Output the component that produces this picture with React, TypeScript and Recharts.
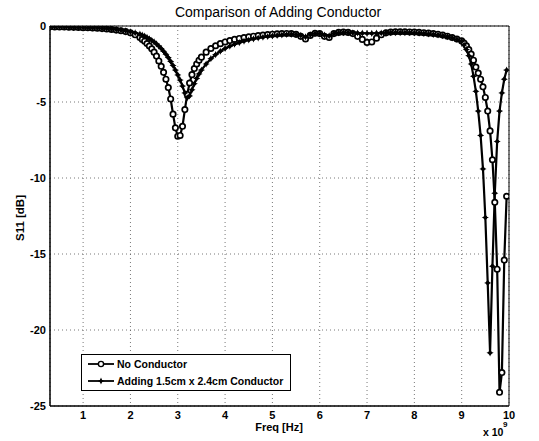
import React from 'react';
import { LineChart, Line, XAxis, YAxis, CartesianGrid, ReferenceArea } from 'recharts';

// Frequency in GHz (axis shows x 10^9 Hz)
const freqGHz = [
  0.3, 0.4, 0.5, 0.6, 0.7, 0.8, 0.9, 1.0, 1.1, 1.2, 1.3, 1.4, 1.5, 1.6, 1.7, 1.8, 1.9, 2.0, 2.1, 2.2,
  2.25, 2.3, 2.35, 2.4, 2.45, 2.5, 2.55, 2.6, 2.65, 2.7, 2.75, 2.8, 2.85, 2.9, 2.95, 3.0, 3.05, 3.1, 3.15, 3.2, 3.25, 3.3, 3.35, 3.4, 3.45, 3.5,
  3.6, 3.7, 3.8, 3.9, 4.0, 4.1, 4.2, 4.3, 4.4, 4.5, 4.6, 4.7, 4.8, 4.9, 5.0, 5.1, 5.2, 5.3, 5.4, 5.5, 5.6, 5.7, 5.8, 5.9, 6.0, 6.1, 6.2, 6.3, 6.4, 6.5, 6.6, 6.7, 6.8, 6.9, 7.0, 7.1, 7.2, 7.3, 7.4, 7.5, 7.6, 7.7, 7.8, 7.9, 8.0, 8.1, 8.2, 8.3, 8.4, 8.5, 8.6, 8.7, 8.8, 8.9,
  9.0, 9.05, 9.1, 9.15, 9.2, 9.25, 9.3, 9.35, 9.4, 9.45, 9.5, 9.55, 9.6, 9.65, 9.7, 9.75, 9.8, 9.85, 9.9, 9.95,
];

const noConductorDb = [
  -0.05, -0.06, -0.06, -0.07, -0.08, -0.09, -0.1, -0.11, -0.12, -0.13, -0.15, -0.17, -0.2, -0.23, -0.27, -0.31, -0.37, -0.45, -0.58, -0.75,
  -0.88, -1.0, -1.15, -1.32, -1.5, -1.72, -1.98, -2.3, -2.65, -3.05, -3.5, -4.05, -4.8, -5.8, -6.7, -7.25, -7.2, -6.6, -5.5, -4.5, -3.75, -3.2, -2.8, -2.5, -2.25, -2.05,
  -1.72, -1.48, -1.3, -1.16, -1.05, -0.96, -0.88, -0.82, -0.76, -0.71, -0.67, -0.63, -0.6, -0.57, -0.54, -0.52, -0.5, -0.49, -0.5, -0.55, -0.68, -0.85, -0.62, -0.48, -0.5, -0.68, -0.75, -0.5, -0.42, -0.4, -0.42, -0.5, -0.68, -0.88, -1.08, -1.05, -0.8, -0.58, -0.45, -0.4, -0.38, -0.38, -0.38, -0.39, -0.4, -0.42, -0.44, -0.47, -0.5, -0.54, -0.6, -0.67, -0.76, -0.86,
  -0.98, -1.12, -1.3, -1.55, -1.85, -2.25, -2.7, -3.1, -3.5, -4.0, -4.7, -5.6, -6.9, -8.8, -11.6, -16.0, -24.1, -22.8, -15.4, -11.2,
];

const withConductorDb = [
  -0.04, -0.05, -0.05, -0.06, -0.07, -0.08, -0.09, -0.1, -0.11, -0.12, -0.13, -0.15, -0.17, -0.2, -0.23, -0.27, -0.32, -0.38, -0.45, -0.54,
  -0.6, -0.67, -0.75, -0.84, -0.94, -1.05, -1.18, -1.32, -1.48, -1.66, -1.86, -2.08, -2.33, -2.6, -2.9, -3.22, -3.56, -3.95, -4.4, -4.72, -4.6, -4.2, -3.8, -3.45, -3.15, -2.9,
  -2.5, -2.15, -1.88, -1.66, -1.48, -1.33, -1.2, -1.1, -1.0, -0.92, -0.85, -0.79, -0.74, -0.69, -0.65, -0.62, -0.59, -0.56, -0.54, -0.56, -0.62, -0.72, -0.58, -0.5, -0.5, -0.6, -0.65, -0.5, -0.45, -0.44, -0.44, -0.45, -0.46, -0.47, -0.48, -0.48, -0.47, -0.46, -0.45, -0.44, -0.43, -0.43, -0.43, -0.44, -0.45, -0.47, -0.49, -0.52, -0.55, -0.59, -0.64, -0.7, -0.78, -0.88,
  -1.0, -1.25, -1.55, -1.95, -2.5, -3.3, -4.3, -5.6, -7.2, -9.4, -12.6, -16.9, -21.5, -15.8, -11.0, -7.6, -5.6, -4.4, -3.5, -2.9,
];

const xTicks = [1, 2, 3, 4, 5, 6, 7, 8, 9, 10];
const yTicks = [0, -5, -10, -15, -20, -25];
const seriesNames = ['No Conductor', 'Adding 1.5cm x 2.4cm Conductor'];
const titleText = 'Comparison of Adding Conductor';
const xLabel = 'Freq [Hz]';
const yLabel = 'S11 [dB]';

const data = freqGHz.map((f, i) => ({ f, noCond: noConductorDb[i], withCond: withConductorDb[i] }));

const FONT = '"Liberation Sans", Arial, Helvetica, sans-serif';

const starPath = (cx: number, cy: number, s: number) =>
  `M${cx},${cy - s}L${cx + 1.1},${cy - 1.1}L${cx + s},${cy}L${cx + 1.1},${cy + 1.1}L${cx},${cy + s}L${cx - 1.1},${cy + 1.1}L${cx - s},${cy}L${cx - 1.1},${cy - 1.1}Z`;

const StarDot = (props: any) => {
  const { cx, cy, index } = props;
  if (cx == null || cy == null) return <g key={`s${index}`} />;
  return (
    <g key={`s${index}`}>
      <path d={starPath(cx, cy, 3.6)} fill="#000" />
      <circle cx={cx} cy={cy} r={1.9} fill="#000" />
    </g>
  );
};

const tickStyle = { fill: '#000', fontSize: 11, fontWeight: 'bold' as const, fontFamily: FONT };

export default function App() {
  return (
    <div style={{ position: 'absolute', left: 0, top: 0, width: 539, height: 441, background: '#fff' }}>
      <LineChart width={539} height={441} data={data} margin={{ top: 26, right: 30, bottom: 0, left: 0 }}>
        <CartesianGrid stroke="#555" strokeDasharray="1 3" strokeWidth={0.8} />
        <XAxis
          dataKey="f"
          type="number"
          domain={[0.3, 10]}
          ticks={xTicks}
          interval={0}
          allowDataOverflow
          height={35}
          tickLine={false}
          tickSize={0}
          tickMargin={5}
          axisLine={{ stroke: '#000' }}
          tick={tickStyle}
        />
        <YAxis
          type="number"
          domain={[-25, 0]}
          ticks={yTicks}
          interval={0}
          allowDataOverflow
          width={50}
          tickLine={false}
          tickSize={0}
          tickMargin={4}
          axisLine={{ stroke: '#000' }}
          tick={tickStyle}
        />
        <ReferenceArea x1={0.3} x2={10} y1={-25} y2={0} fill="none" stroke="#000" strokeWidth={1} />
        <Line
          type="linear"
          dataKey="noCond"
          stroke="#000"
          strokeWidth={2.2}
          dot={{ r: 2.7, fill: '#fff', stroke: '#000', strokeWidth: 1.7 }}
          isAnimationActive={false}
        />
        <Line
          type="linear"
          dataKey="withCond"
          stroke="#000"
          strokeWidth={2.2}
          dot={StarDot}
          isAnimationActive={false}
        />
      </LineChart>

      <svg
        width={539}
        height={441}
        style={{ position: 'absolute', left: 0, top: 0, pointerEvents: 'none' }}
      >
        <text x={278} y={17} textAnchor="middle" fontFamily={FONT} fontSize={14} fill="#000">
          {titleText}
        </text>
        <text x={279} y={431} textAnchor="middle" fontFamily={FONT} fontSize={11} fontWeight="bold" fill="#000">
          {xLabel}
        </text>
        <text x={483} y={436} fontFamily={FONT} fontSize={10.5} fontWeight="bold" fill="#000">
          x 10
        </text>
        <text x={503} y={427} fontFamily={FONT} fontSize={8} fontWeight="bold" fill="#000">
          9
        </text>
        <text
          x={24}
          y={218}
          textAnchor="middle"
          fontFamily={FONT}
          fontSize={11.5}
          fontWeight="bold"
          fill="#000"
          transform="rotate(-90 24 218)"
        >
          {yLabel}
        </text>
      </svg>

      <div
        style={{
          position: 'absolute',
          left: 81,
          top: 354,
          width: 208,
          height: 35,
          border: '1px solid #000',
          background: '#fff',
          fontFamily: FONT,
          fontSize: 10.5,
          fontWeight: 'bold',
          color: '#000',
        }}
      >
        {seriesNames.map((name, i) => (
          <div key={name} style={{ position: 'absolute', left: 6, top: 2 + i * 17, height: 14, display: 'flex', alignItems: 'center' }}>
            <svg width={26} height={12} style={{ marginRight: 3 }}>
              <line x1={0} y1={6} x2={26} y2={6} stroke="#000" strokeWidth={1.8} />
              {i === 0 ? (
                <circle cx={13} cy={6} r={2.6} fill="#fff" stroke="#000" strokeWidth={1.4} />
              ) : (
                <g>
                  <path d={starPath(13, 6, 3.4)} fill="#000" />
                  <circle cx={13} cy={6} r={1.6} fill="#000" />
                </g>
              )}
            </svg>
            <span style={{ whiteSpace: 'nowrap' }}>{name}</span>
          </div>
        ))}
      </div>
    </div>
  );
}
